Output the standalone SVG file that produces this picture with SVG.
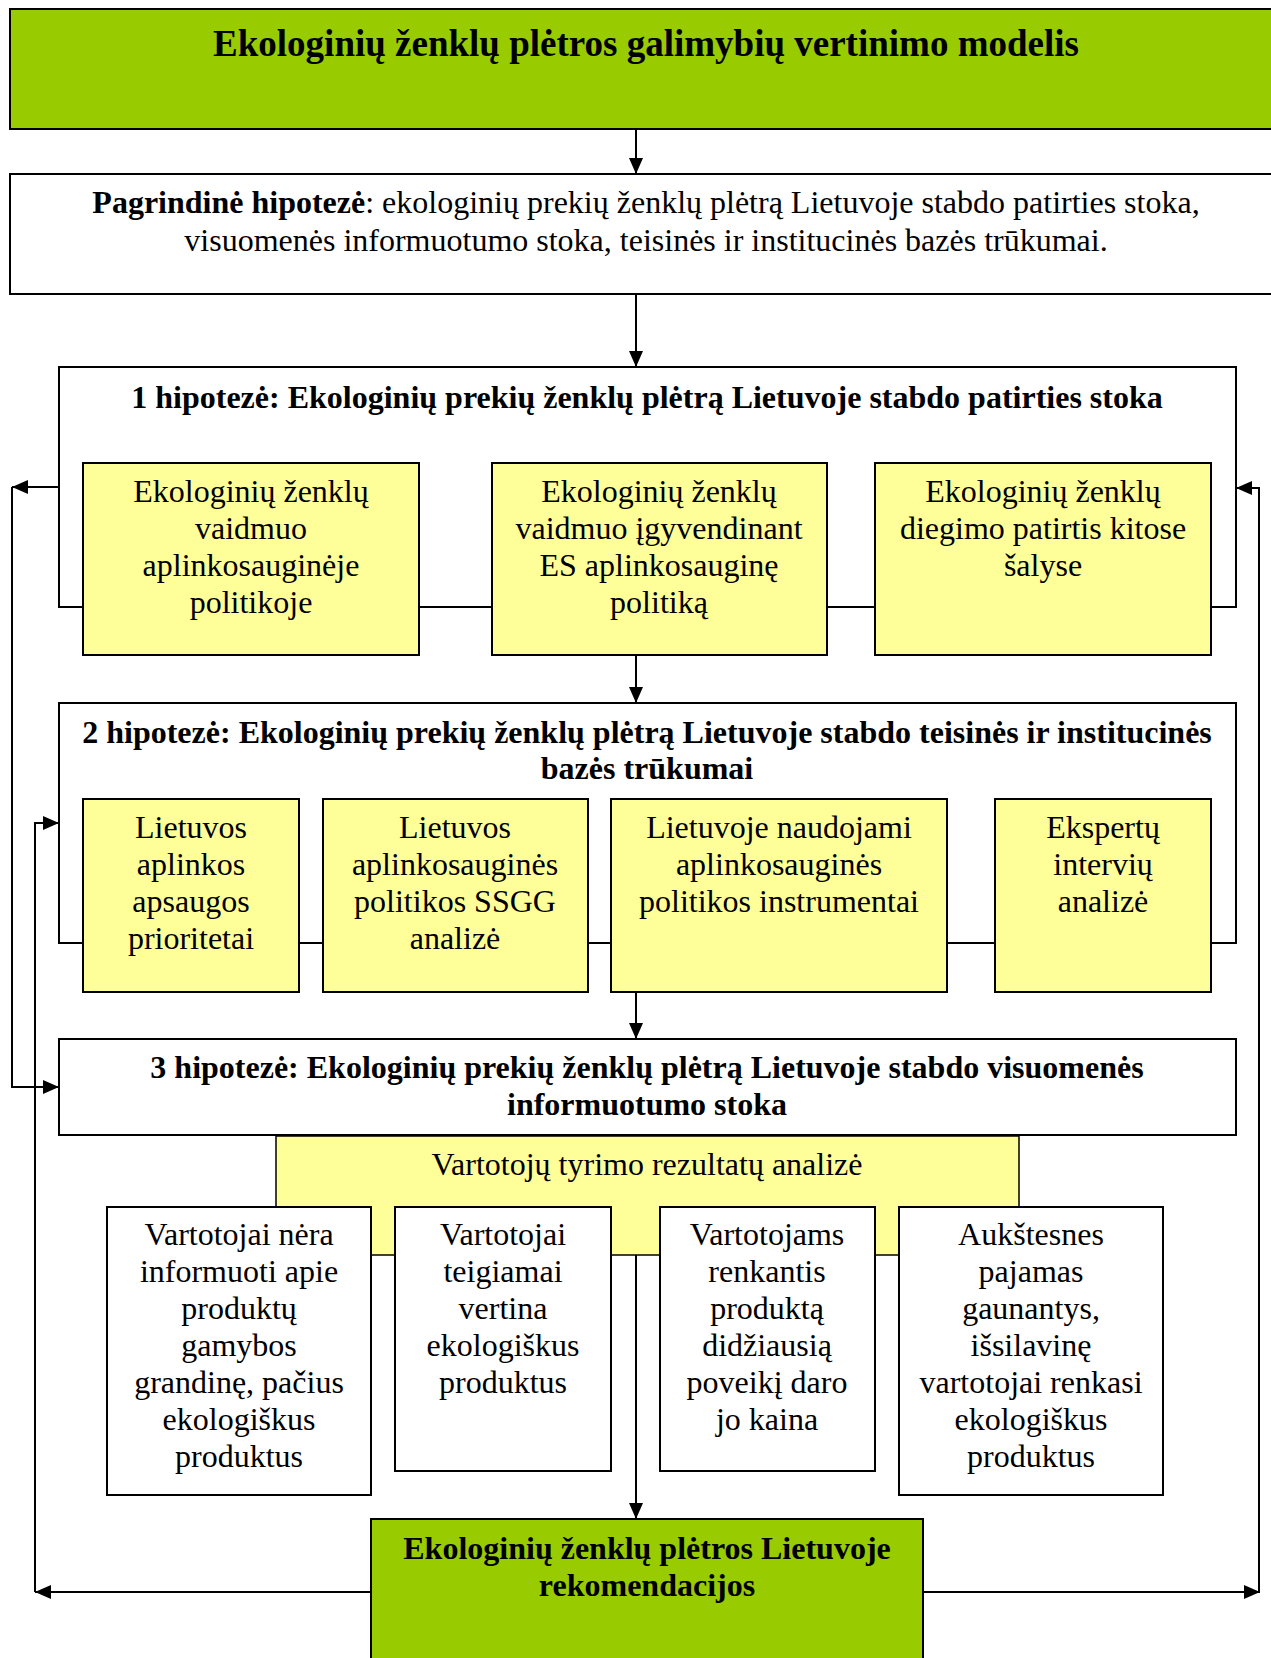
<svg xmlns="http://www.w3.org/2000/svg" width="1271" height="1658" viewBox="0 0 1271 1658">
<defs>
<style>
.t{font-family:"Liberation Serif","Times New Roman",serif;font-size:32px;fill:#000;text-anchor:middle}
.b{font-weight:bold}
.big{font-size:37px}
.box{stroke:#000;stroke-width:2}
.g{fill:#99CC00}
.y{fill:#FFFF99}
.w{fill:#FFFFFF}
.c{fill:none;stroke:#000;stroke-width:2}
</style>
<marker id="ah" markerUnits="userSpaceOnUse" markerWidth="16" markerHeight="14" refX="16" refY="7" orient="auto">
<path d="M0,0 L16,7 L0,14 z" fill="#000"/>
</marker>
</defs>
<rect width="1271" height="1658" fill="#fff"/>

<g id="title">
<rect class="box g" x="10" y="9" width="1290" height="120"/>
<text class="t b big" x="646" y="56">Ekologinių ženklų plėtros galimybių vertinimo modelis</text>
</g>

<g id="main-hypothesis">
<rect class="box w" x="10" y="174" width="1290" height="120"/>
<text class="t" x="646" y="213"><tspan class="b">Pagrindinė hipotezė</tspan>: ekologinių prekių ženklų plėtrą Lietuvoje stabdo patirties stoka,</text>
<text class="t" x="646" y="251">visuomenės informuotumo stoka, teisinės ir institucinės bazės trūkumai.</text>
</g>

<g id="h1">
<rect class="box w" x="59" y="367" width="1177" height="240"/>
<text class="t b" x="647" y="408">1 hipotezė: Ekologinių prekių ženklų plėtrą Lietuvoje stabdo patirties stoka</text>
</g>
<g id="h1-a">
<rect class="box y" x="83" y="463" width="336" height="192"/>
<text class="t" x="251" y="502">Ekologinių ženklų</text>
<text class="t" x="251" y="539">vaidmuo</text>
<text class="t" x="251" y="576">aplinkosauginėje</text>
<text class="t" x="251" y="613">politikoje</text>
</g>
<g id="h1-b">
<rect class="box y" x="492" y="463" width="335" height="192"/>
<text class="t" x="659" y="502">Ekologinių ženklų</text>
<text class="t" x="659" y="539">vaidmuo įgyvendinant</text>
<text class="t" x="659" y="576">ES aplinkosauginę</text>
<text class="t" x="659" y="613">politiką</text>
</g>
<g id="h1-c">
<rect class="box y" x="875" y="463" width="336" height="192"/>
<text class="t" x="1043" y="502">Ekologinių ženklų</text>
<text class="t" x="1043" y="539">diegimo patirtis kitose</text>
<text class="t" x="1043" y="576">šalyse</text>
</g>

<g id="h2">
<rect class="box w" x="59" y="703" width="1177" height="240"/>
<text class="t b" x="647" y="743">2 hipotezė: Ekologinių prekių ženklų plėtrą Lietuvoje stabdo teisinės ir institucinės</text>
<text class="t b" x="647" y="779">bazės trūkumai</text>
</g>
<g id="h2-a">
<rect class="box y" x="83" y="799" width="216" height="193"/>
<text class="t" x="191" y="838">Lietuvos</text>
<text class="t" x="191" y="875">aplinkos</text>
<text class="t" x="191" y="912">apsaugos</text>
<text class="t" x="191" y="949">prioritetai</text>
</g>
<g id="h2-b">
<rect class="box y" x="323" y="799" width="265" height="193"/>
<text class="t" x="455" y="838">Lietuvos</text>
<text class="t" x="455" y="875">aplinkosauginės</text>
<text class="t" x="455" y="912">politikos SSGG</text>
<text class="t" x="455" y="949">analizė</text>
</g>
<g id="h2-c">
<rect class="box y" x="611" y="799" width="336" height="193"/>
<text class="t" x="779" y="838">Lietuvoje naudojami</text>
<text class="t" x="779" y="875">aplinkosauginės</text>
<text class="t" x="779" y="912">politikos instrumentai</text>
</g>
<g id="h2-d">
<rect class="box y" x="995" y="799" width="216" height="193"/>
<text class="t" x="1103" y="838">Ekspertų</text>
<text class="t" x="1103" y="875">intervių</text>
<text class="t" x="1103" y="912">analizė</text>
</g>

<g id="h3">
<rect class="box w" x="59" y="1039" width="1177" height="96"/>
<text class="t b" x="647" y="1078">3 hipotezė: Ekologinių prekių ženklų plėtrą Lietuvoje stabdo visuomenės</text>
<text class="t b" x="647" y="1115">informuotumo stoka</text>
</g>
<g id="consumer-analysis">
<rect class="y" x="276" y="1136" width="743" height="119" stroke="#000" stroke-width="1.5"/>
<text class="t" x="647" y="1175">Vartotojų tyrimo rezultatų analizė</text>
</g>
<g id="c1">
<rect class="box w" x="107" y="1207" width="264" height="288"/>
<text class="t" x="239" y="1245">Vartotojai nėra</text>
<text class="t" x="239" y="1282">informuoti apie</text>
<text class="t" x="239" y="1319">produktų</text>
<text class="t" x="239" y="1356">gamybos</text>
<text class="t" x="239" y="1393">grandinę, pačius</text>
<text class="t" x="239" y="1430">ekologiškus</text>
<text class="t" x="239" y="1467">produktus</text>
</g>
<g id="c2">
<rect class="box w" x="395" y="1207" width="216" height="264"/>
<text class="t" x="503" y="1245">Vartotojai</text>
<text class="t" x="503" y="1282">teigiamai</text>
<text class="t" x="503" y="1319">vertina</text>
<text class="t" x="503" y="1356">ekologiškus</text>
<text class="t" x="503" y="1393">produktus</text>
</g>
<g id="c3">
<rect class="box w" x="660" y="1207" width="215" height="264"/>
<text class="t" x="767" y="1245">Vartotojams</text>
<text class="t" x="767" y="1282">renkantis</text>
<text class="t" x="767" y="1319">produktą</text>
<text class="t" x="767" y="1356">didžiausią</text>
<text class="t" x="767" y="1393">poveikį daro</text>
<text class="t" x="767" y="1430">jo kaina</text>
</g>
<g id="c4">
<rect class="box w" x="899" y="1207" width="264" height="288"/>
<text class="t" x="1031" y="1245">Aukštesnes</text>
<text class="t" x="1031" y="1282">pajamas</text>
<text class="t" x="1031" y="1319">gaunantys,</text>
<text class="t" x="1031" y="1356">išsilavinę</text>
<text class="t" x="1031" y="1393">vartotojai renkasi</text>
<text class="t" x="1031" y="1430">ekologiškus</text>
<text class="t" x="1031" y="1467">produktus</text>
</g>

<g id="recommendations">
<rect class="box g" x="371" y="1519" width="552" height="160"/>
<text class="t b" x="647" y="1559">Ekologinių ženklų plėtros Lietuvoje</text>
<text class="t b" x="647" y="1596">rekomendacijos</text>
</g>

<g id="connectors">
<path class="c" d="M636,129 V174" marker-end="url(#ah)"/>
<path class="c" d="M636,294 V367" marker-end="url(#ah)"/>
<path class="c" d="M636,655 V703" marker-end="url(#ah)"/>
<path class="c" d="M636,992 V1039" marker-end="url(#ah)"/>
<path class="c" d="M636,1255 V1519" marker-end="url(#ah)"/>
<path class="c" d="M59,487 H12" marker-end="url(#ah)"/>
<path class="c" d="M12,487 V1087 H59" marker-end="url(#ah)"/>
<path class="c" d="M371,1592 H35" marker-end="url(#ah)"/>
<path class="c" d="M35,1592 V823 H59" marker-end="url(#ah)"/>
<path class="c" d="M1259,1592 V488 H1236" marker-end="url(#ah)"/>
<path class="c" d="M923,1592 H1260" marker-end="url(#ah)"/>
</g>
</svg>
